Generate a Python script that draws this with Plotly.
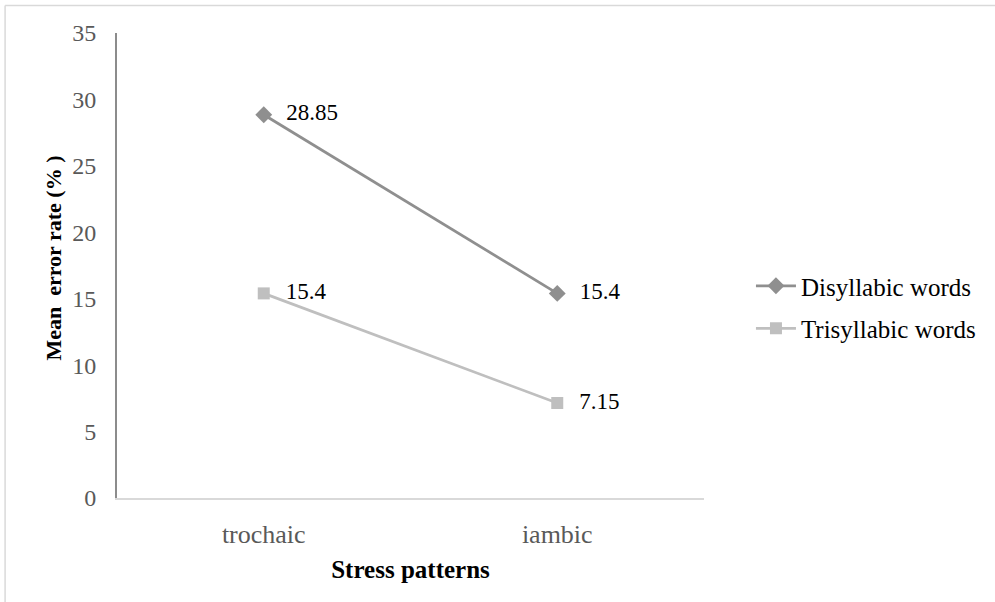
import plotly.graph_objects as go

categories = ["trochaic", "iambic"]
disyllabic = [28.85, 15.4]
trisyllabic = [15.4, 7.15]
disyllabic_labels = ["28.85", "15.4"]
trisyllabic_labels = ["15.4", "7.15"]
y_ticks = [0, 5, 10, 15, 20, 25, 30, 35]

W, H = 995, 602
L, R, T, B = 116.5, 291, 33, 104
pw = W - L - R
ph = H - T - B

FONT = "'Liberation Serif', 'Times New Roman', serif"
PAD = "\u2002\u200a"

fig = go.Figure()
fig.add_trace(go.Scatter(
    x=categories, y=disyllabic, name="Disyllabic words", legendgroup="d",
    mode="lines+markers+text", text=[PAD + t for t in disyllabic_labels],
    textposition="middle right",
    textfont=dict(family=FONT, size=23, color="#000000"),
    line=dict(color="#8f8f8f", width=2.75),
    marker=dict(symbol="diamond", size=13, color="#8f8f8f"),
))
fig.add_trace(go.Scatter(
    x=categories, y=trisyllabic, name="Trisyllabic words", legendgroup="t",
    mode="lines+markers+text", text=[PAD + t for t in trisyllabic_labels],
    textposition="middle right",
    textfont=dict(family=FONT, size=23, color="#000000"),
    line=dict(color="#bfbfbf", width=2.75),
    marker=dict(symbol="square", size=12, color="#bfbfbf"),
))

px2x = lambda px: (px - L) / pw
px2y = lambda py: (H - B - py) / ph

fig.update_layout(
    width=W, height=H,
    margin=dict(l=L, r=R, t=T, b=B),
    paper_bgcolor="white", plot_bgcolor="white",
    font=dict(family=FONT, size=24, color="#595959"),
    showlegend=True,
    legend=dict(x=px2x(751), y=px2y(263), xanchor="left", yanchor="top",
                font=dict(family=FONT, size=25, color="#000000"),
                itemwidth=40, tracegroupgap=7, traceorder="grouped",
                bgcolor="rgba(0,0,0,0)"),
    xaxis=dict(
        type="category", range=[-0.5, 1.5],
        showline=True, linecolor="#d9d9d9", linewidth=2,
        showgrid=False, ticks="", zeroline=False,
        tickfont=dict(family=FONT, size=26, color="#595959"),
        ticklabelstandoff=12,
        title=dict(text="<b>Stress patterns</b>", standoff=12,
                   font=dict(family=FONT, size=25, color="#000000")),
    ),
    yaxis=dict(
        range=[0, 35], tickvals=y_ticks,
        showline=True, linecolor="#8c8c8c", linewidth=2,
        showgrid=False, ticks="", zeroline=False,
        tickfont=dict(family=FONT, size=24, color="#595959"),
        ticklabelstandoff=14,
    ),
    annotations=[
        dict(text="<b>Mean\u00a0 error rate (%\u00a0)</b>", textangle=-90,
             xref="paper", yref="paper", x=px2x(52), y=px2y(258),
             xanchor="center", yanchor="middle", showarrow=False,
             font=dict(family=FONT, size=22, color="#000000")),
    ],
    shapes=[
        dict(type="line", xref="paper", yref="paper",
             x0=px2x(4.5), x1=px2x(1000), y0=px2y(5.5), y1=px2y(5.5),
             line=dict(color="#d9d9d9", width=1.5)),
        dict(type="line", xref="paper", yref="paper",
             x0=px2x(4.5), x1=px2x(4.5), y0=px2y(5.5), y1=px2y(610),
             line=dict(color="#d9d9d9", width=1.5)),
    ],
)

fig.write_html("out.html", config={"displayModeBar": False},
               post_script="document.body.style.margin='0';document.body.style.overflow='hidden';")
